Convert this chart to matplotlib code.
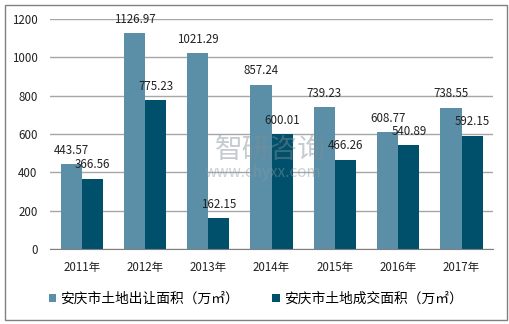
import numpy as np
import matplotlib.pyplot as plt
from matplotlib.patches import Rectangle

plt.rcParams['font.family'] = ['Noto Sans CJK SC', 'DejaVu Sans']

years = ['2011年', '2012年', '2013年', '2014年', '2015年', '2016年', '2017年']
supply = [443.57, 1126.97, 1021.29, 857.24, 739.23, 608.77, 738.55]
deal = [366.56, 775.23, 162.15, 600.01, 466.26, 540.89, 592.15]
names = ['安庆市土地出让面积（万㎡）', '安庆市土地成交面积（万㎡）']
colors = ['#5b8fa8', '#004f6b']

fig = plt.figure(figsize=(5.1, 3.24), dpi=100)
ax = fig.add_axes([0.098, 0.2315, 0.869, 0.7095])

x = np.arange(len(years))
w = 1 / 3
for vals, off, c, lab in [(supply, -w / 2, colors[0], names[0]),
                          (deal, w / 2, colors[1], names[1])]:
    bars = ax.bar(x + off, vals, w, color=c, label=lab, zorder=2)
    for b, v in zip(bars, vals):
        ax.annotate(f'{v:.2f}', (b.get_x() + b.get_width() / 2, v),
                    xytext=(0, 10), textcoords='offset points',
                    ha='center', va='center', fontsize=8.3, color='#222222',
                    zorder=4)

ax.set_xlim(-0.5, len(years) - 0.5)
ax.set_ylim(0, 1200)
ax.set_yticks(range(0, 1201, 200))
ax.set_xticks(x)
ax.set_xticklabels(years)
ax.grid(axis='y', color='#a6a6a6', linewidth=1, zorder=0)
ax.tick_params(length=0, labelsize=8.3, colors='#222222')
ax.tick_params(axis='y', pad=9)
ax.tick_params(axis='x', pad=9)
for s in ['top', 'right', 'left']:
    ax.spines[s].set_visible(False)
ax.spines['bottom'].set_color('#808080')
ax.spines['bottom'].set_zorder(3)

ax.legend(loc='center', bbox_to_anchor=(0.501, 0.077), bbox_transform=fig.transFigure,
          ncol=2, frameon=False, fontsize=9.9, handlelength=0.55, handleheight=0.55,
          handletextpad=0.3, columnspacing=2.4)

# faint watermark
fig.text(0.53, 0.537, '智研咨询', fontsize=20, color='#7f8c93', alpha=0.45,
         ha='center', va='center', zorder=5)
fig.text(0.515, 0.468, 'www.chyxx.com', fontsize=11, color='#8a9aa2', alpha=0.45,
         ha='center', va='center', zorder=5)

# outer frame
fig.patches.append(Rectangle((5 / 510, 4 / 324), 502 / 510, 315 / 324,
                             transform=fig.transFigure, fill=False,
                             edgecolor='#808080', linewidth=1))

fig.savefig('out.png', dpi=100)
